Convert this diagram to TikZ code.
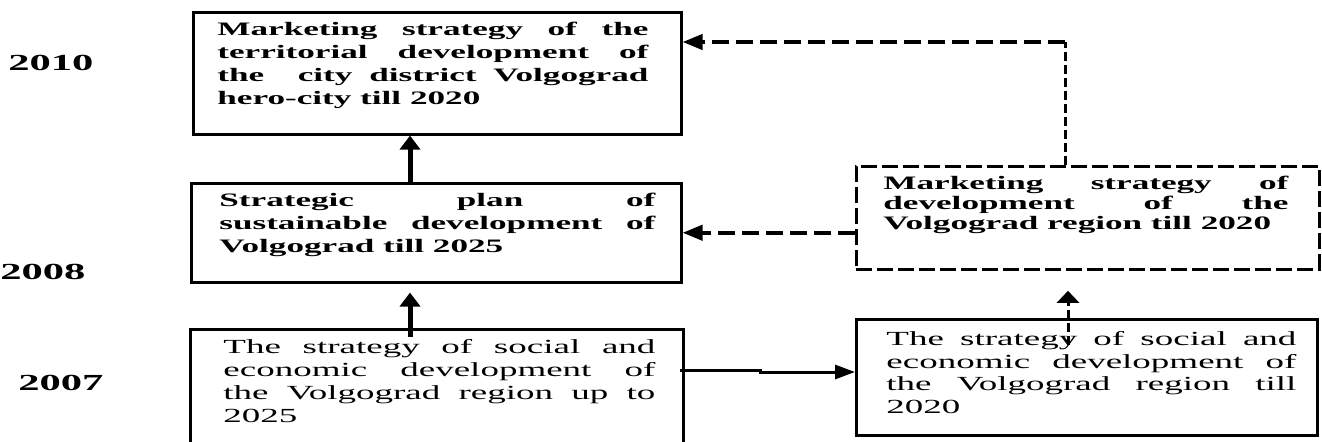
\documentclass[tikz,border=0pt]{standalone}
\usepackage{fontspec}
\setmainfont{Liberation Serif}[FakeStretch=1.85]
\usetikzlibrary{arrows.meta,calc}
\tikzset{
  boxs/.style={draw, line width=1.25pt, inner sep=0pt, anchor=north west},
  dashbox/.style={boxs, line width=1.4pt, dash pattern=on 8pt off 2.5pt},
  txt/.style={inner sep=0pt, anchor=north west, align=justify,
    font=\bfseries\fontsize{9.5pt}{11.5pt}\selectfont},
  txtreg/.style={txt, font=\mdseries\fontsize{10pt}{11.5pt}\selectfont},
  year/.style={inner sep=0pt, anchor=west, font=\bfseries\fontsize{11.5pt}{13pt}\selectfont},
  solidup/.style={line width=2.5pt, -{Triangle[length=7pt,width=10pt]}},
  rightarrow/.style={line width=1.5pt, -{Triangle[length=10pt,width=7pt]}},
  dasharrow/.style={line width=2pt, dash pattern=on 8.5pt off 3.5pt, -{Triangle[length=10pt,width=7.5pt]}},
  vdash/.style={line width=1.5pt, dash pattern=on 4.5pt off 2pt},
  updash/.style={line width=1.5pt, dash pattern=on 4.5pt off 2pt, -{Triangle[length=6pt,width=11pt]}}
}
\begin{document}
\begin{tikzpicture}[x=0.5pt,y=-0.5pt]
\useasboundingbox (0,0) rectangle (1322,441);
% boxes
\node[boxs, minimum width=244pt, minimum height=61pt] (A) at (192,11) {};
\node[boxs, minimum width=245pt, minimum height=49.5pt] (B) at (190,182) {};
\node[boxs, minimum width=246.5pt, minimum height=66pt] (C) at (189,328) {};
\node[boxs, minimum width=230.5pt, minimum height=58pt] (D) at (855,318) {};
\node[dashbox, minimum width=231.5pt, minimum height=51.5pt] (E) at (855,165) {};
% texts
\node[txt, text width=215.5pt] (tA) at (217,19) {\strut Marketing strategy of the\linebreak territorial development of\linebreak the\ \ city district Volgograd\linebreak hero-city till 2020};
\node[txt, text width=218pt] (tB) at (219,190) {\strut Strategic plan of\linebreak sustainable development of\linebreak Volgograd till 2025};
\node[txtreg, text width=216pt] (tC) at (223,337) {\strut The strategy of social and\linebreak economic development of\linebreak the Volgograd region up to\linebreak 2025};
\node[txtreg, text width=205pt, font=\mdseries\fontsize{10pt}{11.4pt}\selectfont] (tD) at (886,329) {\strut The strategy of social and\linebreak economic development of\linebreak the Volgograd region till\linebreak 2020};
\node[txt, text width=202.5pt, font=\bfseries\fontsize{9.5pt}{10pt}\selectfont] (tE) at (883,175) {\strut Marketing strategy of\linebreak development of the\linebreak Volgograd region till 2020};
% years
\node[year] (y2010) at (8,63) {2010};
\node[year] (y2008) at (0,272) {2008};
\node[year] (y2007) at (18,383) {2007};
% connectors
\coordinate (xa) at (410,0);
\coordinate (xd) at (1068,0);
\coordinate (k) at (1065,42);
\draw[solidup] (B.north -| xa) -- (A.south -| xa);
\draw[solidup] ($(C.north -| xa)+(0,9)$) -- ($(B.south -| xa)+(0,9)$);
\coordinate (p) at ($(C.north east)+(-5,42)$);
\coordinate (q) at ($(p)+(81,0)$);
\draw[rightarrow] (p) -- (q) -- ++(0,2) -- ($(q -| D.west)+(0,2)$);
\draw[dasharrow] (E.west |- B.east) -- (B.east);
\draw[vdash] (E.north -| k) -- (k);
\draw[dasharrow] (k) -- (k -| A.east);
\draw[updash] ($(D.north -| xd)+(0,27)$) -- ($(E.south -| xd)+(0,20)$);
\end{tikzpicture}
\end{document}
